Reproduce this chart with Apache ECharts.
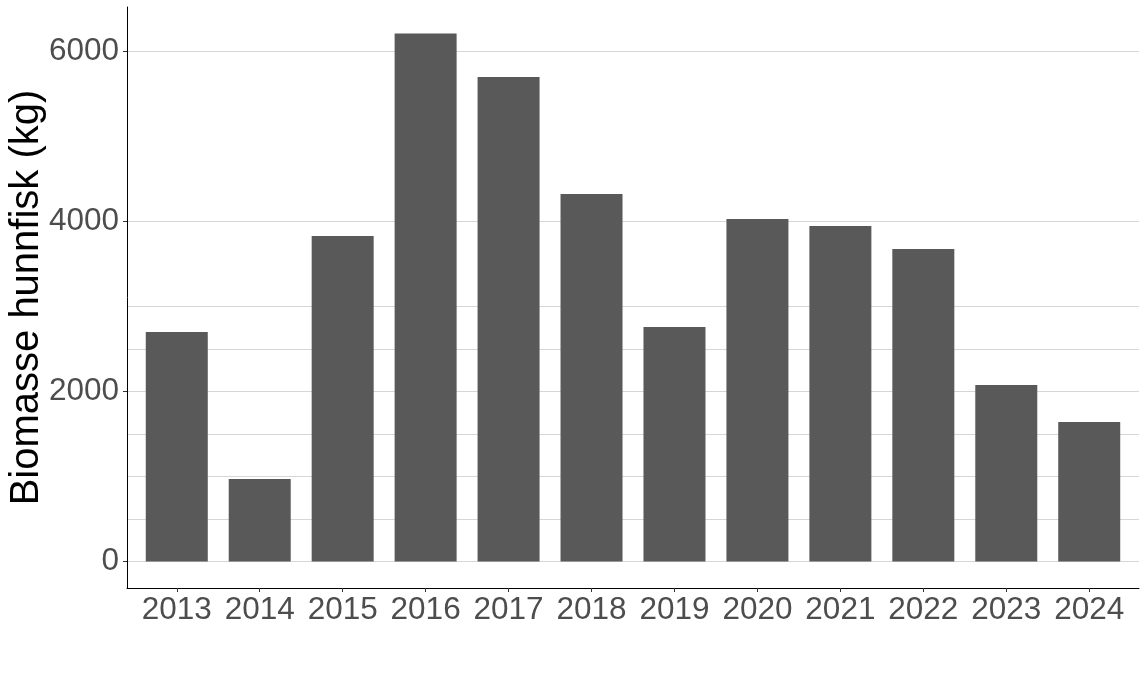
<!DOCTYPE html>
<html>
<head>
<meta charset="utf-8">
<script src="https://cdn.jsdelivr.net/npm/echarts@6/dist/echarts.min.js"></script>
<style>
  html, body { margin: 0; padding: 0; background: #fff; }
  #chart { width: 1147px; height: 675px; }
</style>
</head>
<body>
<div id="chart"></div>
<script>
// years on the x axis
const years = ['2013', '2014', '2015', '2016', '2017', '2018', '2019', '2020', '2021', '2022', '2023', '2024'];
// female biomass in kg
const biomass = [2702, 972, 3831, 6215, 5703, 4326, 2761, 4032, 3949, 3679, 2078, 1643];
// labelled y ticks and the light grid lines
const yTicks = [0, 2000, 4000, 6000];
const gridValues = [0, 500, 1000, 1500, 2000, 2500, 3000, 4000, 6000];

const font = 'Liberation Sans, Arial, sans-serif';
const maxVal = Math.max(...biomass);
// ggplot style 5% padding on both ends
const yMin = -0.05 * maxVal;
const yMax = 1.05 * maxVal;
const positions = years.map((y, i) => i);

const chart = echarts.init(document.getElementById('chart'));

chart.setOption({
  animation: false,
  backgroundColor: '#ffffff',
  grid: { left: 127, right: 8, top: 7, bottom: 87, outerBoundsMode: 'none', containLabel: false },
  xAxis: {
    type: 'value',
    min: -0.6,
    max: years.length - 0.4,
    axisLine: { show: true, onZero: false, lineStyle: { color: '#000', width: 1 } },
    axisTick: { show: true, customValues: positions, length: 4, lineStyle: { color: '#333' } },
    axisLabel: {
      customValues: positions,
      formatter: (v) => years[Math.round(v)],
      color: '#4d4d4d',
      fontSize: 31.5,
      fontFamily: font,
      margin: 6
    },
    splitLine: { show: false }
  },
  yAxis: [
    {
      type: 'value',
      min: yMin,
      max: yMax,
      axisLine: { show: true, onZero: false, lineStyle: { color: '#000', width: 1 } },
      axisTick: { show: true, customValues: yTicks, length: 4, lineStyle: { color: '#333' } },
      axisLabel: {
        customValues: yTicks,
        formatter: (v) => String(v),
        color: '#4d4d4d',
        fontSize: 31.5,
        fontFamily: font,
        margin: 8
      },
      splitLine: { show: false },
      name: 'Biomasse hunnfisk (kg)',
      nameLocation: 'middle',
      nameGap: 80,
      nameMoveOverlap: false,
      nameTextStyle: { color: '#000', fontSize: 40, fontFamily: font }
    },
    {
      // only carries the grid lines
      type: 'value',
      min: yMin,
      max: yMax,
      position: 'left',
      axisLine: { show: false, onZero: false },
      axisTick: { show: false, customValues: gridValues },
      axisLabel: { show: false },
      splitLine: { show: true, lineStyle: { color: '#d6d6d6', width: 1 } }
    }
  ],
  series: [
    {
      type: 'bar',
      data: biomass.map((v, i) => [i, v]),
      barWidth: 62,
      itemStyle: { color: '#595959' }
    }
  ]
});
</script>
</body>
</html>
